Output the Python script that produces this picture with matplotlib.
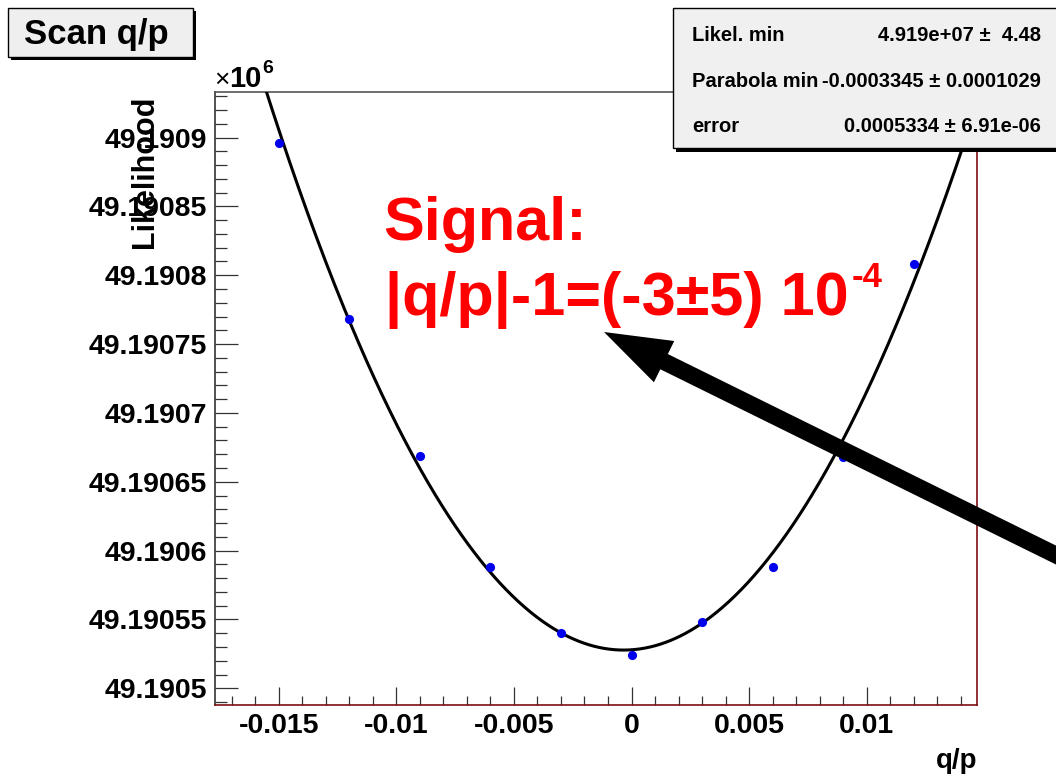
import numpy as np
import matplotlib
matplotlib.use("Agg")
import matplotlib.pyplot as plt
from matplotlib.patches import Rectangle, FancyArrow
from matplotlib.transforms import Affine2D

# ---------------- data ----------------
scan_x = [-0.015, -0.012, -0.009, -0.006, -0.003, 0.0, 0.003, 0.006, 0.009, 0.012]
likelihood = [49.1908957, 49.190768, 49.1906686, 49.190588, 49.1905401,
              49.1905242, 49.1905481, 49.190588, 49.1906679, 49.1908081]   # x 10^6

# parabola fit results (from stats box; minimum value)
par_min_x = -0.0003345
par_error = 0.0005334
par_min_y = 49.1905278   # x 10^6

x_major = [-0.015, -0.01, -0.005, 0.0, 0.005, 0.01]
x_labels = ["-0.015", "-0.01", "-0.005", "0", "0.005", "0.01"]
y_labels = ["49.1905", "49.19055", "49.1906", "49.19065", "49.1907",
            "49.19075", "49.1908", "49.19085", "49.1909"]
xlim = (-0.01771, 0.014689)
ylim = (49.1904879, 49.1909331)

stats_names = ["Likel. min", "Parabola min", "error"]
stats_values = ["4.919e+07 \u00b1  4.48", "-0.0003345 \u00b1 0.0001029", "0.0005334 \u00b1 6.91e-06"]

title = "Scan q/p"
signal_line1 = "Signal:"
signal_line2 = "|q/p|-1=(-3\u00b15) 10"
signal_exp = "-4"

# ---------------- figure ----------------
W, H = 1056, 776
plt.rcParams['font.family'] = ['Liberation Sans', 'DejaVu Sans']
plt.rcParams['font.weight'] = 'bold'
fig = plt.figure(figsize=(W / 100, H / 100), dpi=100)
pxt = Affine2D().scale(1 / W, -1 / H).translate(0, 1) + fig.transFigure

L, R, T, B = 215, 977, 92, 705
ax = fig.add_axes([L / W, 1 - B / H, (R - L) / W, (B - T) / H])
ax.set_xlim(*xlim)
ax.set_ylim(*ylim)

# fitted parabola
xc = np.linspace(xlim[0], xlim[1], 600)
a = 0.5e-6 / par_error ** 2
ax.plot(xc, par_min_y + a * (xc - par_min_x) ** 2, color='black', lw=2.2, zorder=3)
ax.plot(scan_x, likelihood, 'o', color='#0000ee', ms=6.6, mec='none', zorder=4)

# ticks
ax.set_xticks(x_major)
ax.set_xticklabels(x_labels)
ax.set_xticks(np.arange(-0.017, 0.0145, 0.001), minor=True)
yt = [float(s) for s in y_labels]
ax.set_yticks(yt)
ax.set_yticklabels(y_labels)
ax.set_yticks(np.arange(49.19049, 49.19093, 0.00001), minor=True)
ax.tick_params(axis='both', which='both', direction='in', width=0.9, color='#333333',
               labelsize=20.5, top=False, right=False)
ax.tick_params(axis='x', which='major', length=13, pad=6)
ax.tick_params(axis='x', which='minor', length=6.5)
ax.tick_params(axis='y', which='major', length=16.5, pad=6)
ax.tick_params(axis='y', which='minor', length=8.5)
for lab in ax.get_xticklabels() + ax.get_yticklabels():
    lab.set_fontweight('bold')

ax.spines['left'].set_color('#333333')
ax.spines['top'].set_color('#555555')
ax.spines['bottom'].set_color('#7a1010')
ax.spines['right'].set_color('#7a1010')
for s in ax.spines.values():
    s.set_linewidth(1.2)

# axis titles
fig.text(153, 95, "Likelihood", transform=pxt, rotation=90, rotation_mode='anchor',
         ha='right', va='baseline', fontsize=22, fontweight='bold')
fig.text(977, 768, "q/p", transform=pxt, ha='right', va='baseline', fontsize=20, fontweight='bold')
fig.text(214, 87, "\u00d7", transform=pxt, ha='left', va='baseline', fontsize=19, fontweight='normal')
fig.text(229, 87, "10", transform=pxt, ha='left', va='baseline', fontsize=21, fontweight='bold')
fig.text(262, 73, "6", transform=pxt, ha='left', va='baseline', fontsize=14, fontweight='bold')

# title box
fig.patches.append(Rectangle((11, 11), 185, 49, transform=pxt, facecolor='black',
                             edgecolor='none', zorder=5))
fig.patches.append(Rectangle((8, 8), 185, 49, transform=pxt, facecolor='#efefef',
                             edgecolor='black', lw=1, zorder=6))
fig.text(96, 44, title, transform=pxt, ha='center', va='baseline', fontsize=25,
         fontweight='bold', zorder=7)

# stats box
fig.patches.append(Rectangle((676, 11), 400, 141, transform=pxt, facecolor='black',
                             edgecolor='none', zorder=5))
fig.patches.append(Rectangle((673, 8), 400, 140, transform=pxt, facecolor='#f0f0f0',
                             edgecolor='black', lw=1, zorder=6))
for i, (n, v) in enumerate(zip(stats_names, stats_values)):
    yb = [41, 87, 132][i]
    fig.text(692, yb, n, transform=pxt, ha='left', va='baseline', fontsize=14.5,
             fontweight='bold', zorder=7)
    fig.text(1041, yb, v, transform=pxt, ha='right', va='baseline', fontsize=14.5,
             fontweight='bold', zorder=7)

# red annotation
fig.text(383, 240, signal_line1, transform=pxt, ha='left', va='baseline', fontsize=44,
         fontweight='bold', color='red', zorder=8)
t2 = fig.text(385, 315, signal_line2, transform=pxt, ha='left', va='baseline', fontsize=44,
              fontweight='bold', color='red', zorder=8)
fig.canvas.draw()
bb = t2.get_window_extent()
xr = pxt.inverted().transform((bb.x1, bb.y1))[0]
fig.text(xr + 3, 287, signal_exp, transform=pxt, ha='left', va='baseline', fontsize=25,
         fontweight='bold', color='red', zorder=8)

# arrow
fig.patches.append(FancyArrow(1064, 559, 604 - 1064, 332 - 559, width=17, head_width=46,
                              head_length=67, length_includes_head=True, transform=pxt,
                              facecolor='black', edgecolor='none', zorder=9))

fig.savefig("out.png", dpi=100)
